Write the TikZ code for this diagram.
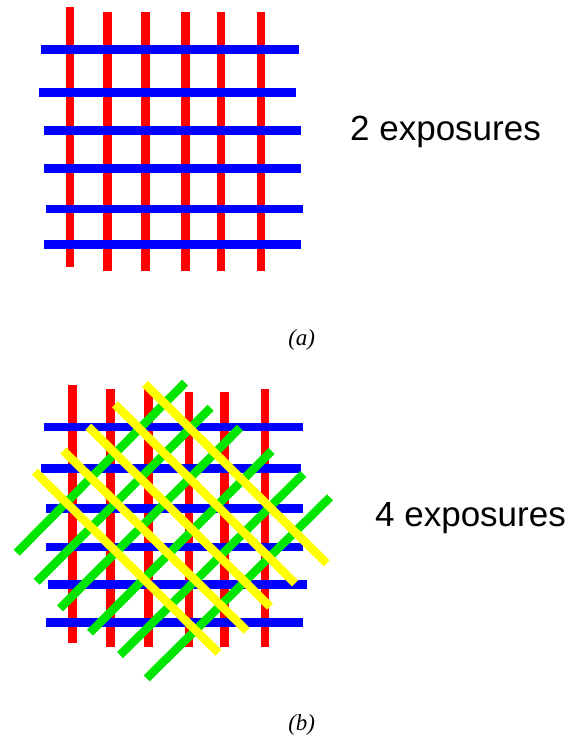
\documentclass[tikz,border=0pt]{standalone}
\usepackage{fontspec}
\setmainfont{Liberation Serif}
\newfontfamily\labelfont{Liberation Sans}

\definecolor{barred}{RGB}{255,0,0}
\definecolor{barblue}{RGB}{0,0,255}
\definecolor{bargreen}{RGB}{0,230,0}
\definecolor{baryellow}{RGB}{255,255,0}

\begin{document}
\begin{tikzpicture}[
    x=1pt, y=-1pt,
    % Estilos das barras de exposicao
    bar/.style={line width=8.5pt, line cap=butt},
    redbar/.style={bar, draw=barred},
    bluebar/.style={bar, draw=barblue},
    greenbar/.style={bar, draw=bargreen},
    yellowbar/.style={bar, draw=baryellow},
    lbl/.style={font=\labelfont\fontsize{35}{40}\selectfont, inner sep=0pt, anchor=base west},
    capt/.style={font=\itshape\fontsize{23}{27}\selectfont, inner sep=0pt, anchor=base}
]
    \useasboundingbox (0,0) rectangle (575,736);

    % ================= (a) 2 EXPOSICOES =================
    % vermelho (vertical)
    \draw[redbar] (70,7) -- (70,267);
    \draw[redbar] (107.7,12) -- (107.7,271);
    \draw[redbar] (145.7,12) -- (145.7,271);
    \draw[redbar] (185.7,12) -- (185.7,271);
    \draw[redbar] (221,12) -- (221,271);
    \draw[redbar] (261,12) -- (261,271);

    % azul (horizontal)
    \draw[bluebar] (41.3,49.7) -- (298.7,49.7);
    \draw[bluebar] (39.3,92.3) -- (296.3,92.3);
    \draw[bluebar] (43.7,130.3) -- (301,130.3);
    \draw[bluebar] (43.7,168.7) -- (301,168.7);
    \draw[bluebar] (46,209) -- (303.3,209);
    \draw[bluebar] (43.7,244.7) -- (301,244.7);

    \node[lbl] (twoexp) at (350,140) {2 exposures};
    \node[capt] (capa) at (301.7,345.5) {(a)};

    % ================= (b) 4 EXPOSICOES =================
    % vermelho (vertical)
    \draw[redbar] (72.7,384.7) -- (72.7,642.7);
    \draw[redbar] (110.3,389.3) -- (110.3,646.7);
    \draw[redbar] (148.7,389) -- (148.7,646.7);
    \draw[redbar] (189,391.7) -- (189,646.7);
    \draw[redbar] (224.3,391.7) -- (224.3,646.7);
    \draw[redbar] (265,389.3) -- (265,646.7);

    % azul (horizontal)
    \draw[bluebar] (43.7,427) -- (303,427);
    \draw[bluebar] (41.3,468.7) -- (301,468.7);
    \draw[bluebar] (46,508.7) -- (303.3,508.7);
    \draw[bluebar] (46,547) -- (303.3,547);
    \draw[bluebar] (48.3,584.7) -- (306.7,584.7);
    \draw[bluebar] (46,622.7) -- (303.3,622.7);

    % verde (diagonal subindo)
    \draw[greenbar] (16.7,552.7) -- (185,382.7);
    \draw[greenbar] (36.7,581.7) -- (210.7,407.7);
    \draw[greenbar] (60,608.3) -- (240,427.7);
    \draw[greenbar] (90,632.7) -- (271.7,451);
    \draw[greenbar] (120,655) -- (303.3,474);
    \draw[greenbar] (146.7,678.3) -- (330,497.3);

    % amarelo (diagonal descendo)
    \draw[yellowbar] (35,471.7) -- (218.3,652.7);
    \draw[yellowbar] (63.3,450.7) -- (246.7,630.7);
    \draw[yellowbar] (88.3,426.7) -- (270,606.7);
    \draw[yellowbar] (115,404.3) -- (295,583.3);
    \draw[yellowbar] (145,384) -- (326.7,563.3);

    \node[lbl] (fourexp) at (375,526) {4 exposures};
    \node[capt] (capb) at (301.7,730.5) {(b)};

\end{tikzpicture}
\end{document}
